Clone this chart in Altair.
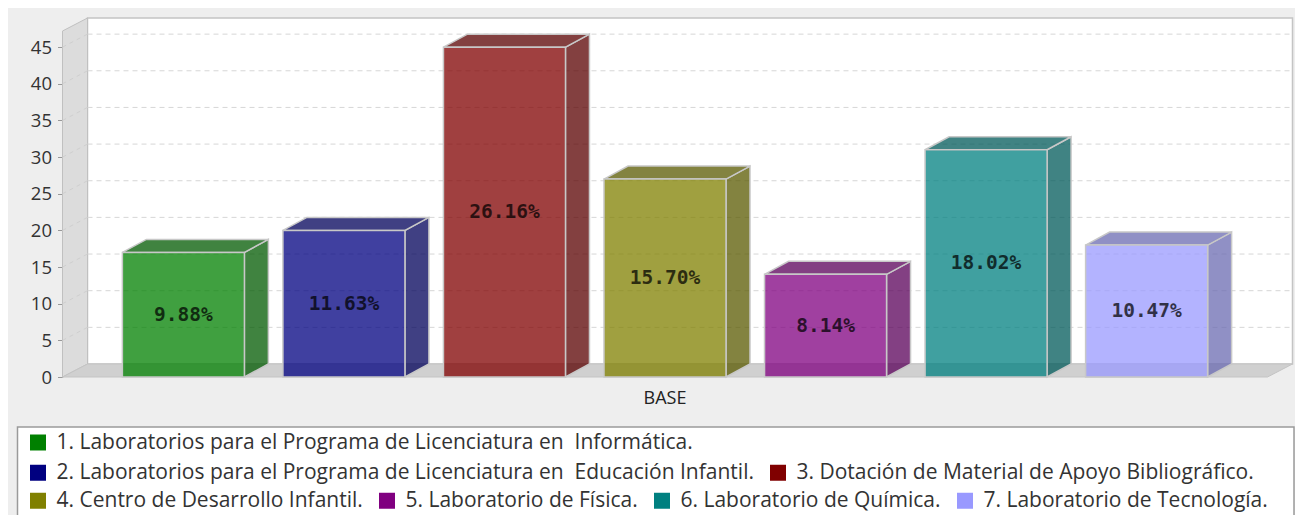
import altair as alt
import pandas as pd

# ---- data ----
categories = [
    "1. Laboratorios para el Programa de Licenciatura en \u00a0Informática.",
    "2. Laboratorios para el Programa de Licenciatura en \u00a0Educación Infantil.",
    "3. Dotación de Material de Apoyo Bibliográfico.",
    "4. Centro de Desarrollo Infantil.",
    "5. Laboratorio de Física.",
    "6. Laboratorio de Química.",
    "7. Laboratorio de Tecnología.",
]
values = [17, 20, 45, 27, 14, 31, 18]
group_label = "BASE"
legend_row = [1, 2, 2, 3, 3, 3, 3]
y_ticks = [0, 5, 10, 15, 20, 25, 30, 35, 40, 45]

# ---- styles ----
colors = ["#008000", "#000080", "#800000", "#808000", "#800080", "#008080", "#9999ff"]
side_colors = ["#005a00", "#00005a", "#5a0000", "#5a5a00", "#5a005a", "#005a5a", "#6b6bb2"]
W, H = 1205, 346
DX, DY = 24, 13      # bar depth
WX, WY = 25, 13      # wall depth
FONT = "Open Sans"
LEG_FS = 21

df = pd.DataFrame({
    "cat": categories, "value": values, "grp": group_label,
    "row": legend_row, "side": side_colors,
})
ticks_df = pd.DataFrame({"t": y_ticks[1:]})
one = pd.DataFrame({"a": [0]})

y_scale = alt.Scale(domain=[0, 47.2], nice=False, zero=True)
y_axis = alt.Axis(values=y_ticks, grid=False, title=None, labelFont=FONT, labelFontSize=18.5,
                  labelColor="#333333", tickColor="#999999", tickSize=5, domainColor="#a8a8a8",
                  labelPadding=6)
x_enc = alt.X("grp:N", scale=alt.Scale(paddingInner=0, paddingOuter=0),
              axis=alt.Axis(title=None, labelAngle=0, ticks=False, domain=False, labelFont=FONT,
                            labelFontSize=18, labelColor="#222222", labelPadding=12))
xo_enc = alt.XOffset("cat:N", scale=alt.Scale(domain=categories, paddingInner=0.24, paddingOuter=0.373))

# ---- walls and floor ----
back_wall = alt.Chart(one).mark_point(
    shape={"expr": f"'M{WX},-{WY} L' + (width+{WX}) + ',-{WY} L' + (width+{WX}) + ',' + (height-{WY}) + ' L{WX},' + (height-{WY}) + ' Z'"},
    size=4, filled=True, fill="white", opacity=1, stroke="#c4c4c4", strokeWidth=1.5,
).encode(x=alt.value(0), y=alt.value(0))

left_wall = alt.Chart(one).mark_point(
    shape={"expr": f"'M0,0 L0,' + (-height) + ' L{WX},' + (-height-{WY}) + ' L{WX},-{WY} Z'"},
    size=4, filled=True, fill="#dcdcdc", opacity=1, stroke="#c0c0c0", strokeWidth=1,
).encode(x=alt.value(0), y=alt.value("height"))

floor = alt.Chart(one).mark_point(
    shape={"expr": f"'M0,0 L' + width + ',0 L' + (width+{WX}) + ',-{WY} L{WX},-{WY} Z'"},
    size=4, filled=True, fill="#d0d0d0", opacity=1, stroke="#c4c4c4", strokeWidth=1,
).encode(x=alt.value(0), y=alt.value("height"))

grid_back = alt.Chart(ticks_df).mark_rule(
    strokeDash=[5, 4], color="#d6d6d6", strokeWidth=1, xOffset=WX, x2Offset=WX, yOffset=-WY,
).encode(y=alt.Y("t:Q", scale=y_scale, axis=y_axis), x=alt.value(0), x2=alt.value("width"))

grid_side = alt.Chart(ticks_df).mark_rule(
    strokeDash=[4, 4], color="#cfcfcf", strokeWidth=1, x2Offset=WX, y2Offset=-WY,
).encode(y=alt.Y("t:Q", scale=y_scale, axis=y_axis), y2="t:Q", x=alt.value(0), x2=alt.value(0))

legend_box = alt.Chart(one).mark_rect(
    fill="white", stroke="#9a9a9a", strokeWidth=1.5,
    xOffset=-45, x2Offset=26.5, yOffset=50, y2Offset=160,
).encode(x=alt.value(0), x2=alt.value("width"), y=alt.value("height"), y2=alt.value("height"))

# ---- 3D bars ----
HW = "(bandwidth('xOffset')/2)"
HPX = "(scale('y',0)-scale('y',datum.value))"
side_expr = (f"'M' + {HW} + ',0 L' + ({HW}+{DX}) + ',-{DY} L' + ({HW}+{DX}) + ',' + ({HPX}-{DY}) + "
             f"' L' + {HW} + ',' + {HPX} + ' Z'")
top_expr = (f"'M' + (-{HW}) + ',0 L' + (-{HW}+{DX}) + ',-{DY} L' + ({HW}+{DX}) + ',-{DY} L' + {HW} + ',0 Z'")

base = alt.Chart(df)
y_val = alt.Y("value:Q", scale=y_scale, axis=y_axis)

sides = base.mark_point(shape={"expr": side_expr}, size=4, filled=True, opacity=1, fillOpacity=0.75,
                        stroke="#c8c8c8", strokeWidth=1.5).encode(
    x=x_enc, xOffset=xo_enc, y=y_val, fill=alt.Fill("side:N", scale=None))
tops = base.mark_point(shape={"expr": top_expr}, size=4, filled=True, opacity=1, fillOpacity=0.75,
                       stroke="#c8c8c8", strokeWidth=1.5).encode(
    x=x_enc, xOffset=xo_enc, y=y_val, fill=alt.Fill("side:N", scale=None))

row_pos = {1: 401, 2: 431, 3: 459}
fronts = []
for r in (1, 2, 3):
    cats_r = [c for c, rr in zip(categories, legend_row) if rr == r]
    cols_r = [c for c, rr in zip(colors, legend_row) if rr == r]
    fronts.append(
        base.transform_filter(alt.datum.row == r).mark_bar(
            fillOpacity=0.75, stroke="#c8c8c8", strokeWidth=1.5,
        ).encode(
            x=x_enc, xOffset=xo_enc, y=y_val,
            color=alt.Color("cat:N", scale=alt.Scale(domain=cats_r, range=cols_r),
                            legend=alt.Legend(
                                title=None, orient="none", direction="horizontal",
                                legendX=-35, legendY=row_pos[r], symbolType="square",
                                symbolSize=256, symbolStrokeWidth=0, symbolOpacity=1,
                                labelFont=FONT, labelFontSize=LEG_FS, labelColor="#333333",
                                labelOffset=8, columnPadding=13, labelLimit=1000, padding=0)),
        )
    )

labels = base.transform_joinaggregate(total="sum(value)").transform_calculate(
    pct="datum.value / datum.total", mid="datum.value / 2"
).mark_text(font="DejaVu Sans Mono", fontWeight="bold", fontSize=19.5, color="black", opacity=0.72).encode(
    x=x_enc, xOffset=xo_enc, y=alt.Y("mid:Q", scale=y_scale, axis=y_axis),
    text=alt.Text("pct:Q", format=".2%"))

chart = alt.layer(
    legend_box, back_wall, left_wall, floor, grid_back, grid_side, sides, tops, *fronts, labels
).resolve_scale(color="independent").properties(
    width=W, height=H,
    padding={"left": 54.5, "top": 23, "right": 27.5, "bottom": 141},
    autosize=alt.AutoSizeParams(type="none"),
    background="#eeeeee",
).configure_view(stroke=None)

chart.save("out.html", embed_options={"renderer": "svg", "actions": False})
